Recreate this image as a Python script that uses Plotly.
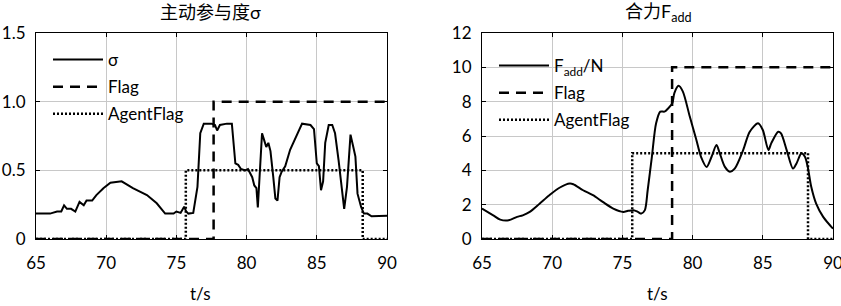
import plotly.graph_objects as go

# ---- data: left panel (sigma) ----
sigma_t = [65.0, 66.0, 66.5, 66.8, 67.0, 67.2, 67.5, 67.8, 68.1, 68.4, 68.6, 69.0, 69.3, 69.8,
           70.3, 71.1, 71.9, 72.9, 73.6, 74.2, 74.8, 75.0, 75.3, 75.55, 75.7, 75.85, 76.2, 76.5,
           76.7, 76.95, 77.5, 77.75, 77.9, 78.1, 78.6, 78.95, 79.2, 79.4, 79.6, 79.9, 80.1,
           80.4, 80.55, 80.7, 80.8, 80.9, 81.1, 81.25, 81.4, 81.55, 81.7, 81.9, 82.05, 82.2,
           82.35, 82.5, 82.75, 83.1, 83.6, 83.95, 84.55, 84.8, 85.0, 85.15, 85.3, 85.45, 85.6,
           85.85, 86.1, 86.3, 86.55, 86.8, 86.95, 87.15, 87.4, 87.6, 87.75, 87.9, 88.15, 88.35,
           88.6, 88.9, 90.0]
sigma_v = [0.185, 0.185, 0.20, 0.20, 0.245, 0.22, 0.22, 0.20, 0.27, 0.245, 0.28, 0.28, 0.32, 0.37,
           0.41, 0.42, 0.37, 0.32, 0.26, 0.185, 0.185, 0.20, 0.19, 0.235, 0.20, 0.185, 0.19, 0.38,
           0.77, 0.84, 0.84, 0.83, 0.79, 0.83, 0.84, 0.84, 0.55, 0.54, 0.51, 0.50, 0.51,
           0.45, 0.39, 0.37, 0.23, 0.45, 0.77, 0.72, 0.67, 0.70, 0.64, 0.45, 0.295, 0.28,
           0.45, 0.49, 0.53, 0.65, 0.76, 0.84, 0.83, 0.80, 0.55, 0.53, 0.355, 0.42, 0.70,
           0.83, 0.83, 0.77, 0.575, 0.33, 0.22, 0.38, 0.76, 0.67, 0.60, 0.33, 0.235, 0.185,
           0.185, 0.165, 0.17]
flag1_t = [65, 77.65, 77.65, 90]
flag1_v = [0, 0, 1, 1]
agent1_t = [65, 75.67, 75.67, 88.27, 88.27, 90]
agent1_v = [0, 0, 0.5, 0.5, 0, 0]

# ---- data: right panel (F_add) ----
f_t = [65.0, 65.8, 66.3, 66.9, 67.5, 67.9, 68.4, 69.1, 69.8, 70.55, 71.26, 71.5, 72.2, 72.9,
       73.6, 74.35, 75.06, 75.4, 75.8, 76.1, 76.35, 76.6, 76.8, 77.1, 77.4, 77.7, 78.0, 78.25,
       78.55, 78.7, 79.0, 79.3, 79.8, 80.27, 80.6, 81.0, 81.35, 81.7, 81.9, 82.3, 82.65, 83.0,
       83.6, 84.07, 84.66, 85.0, 85.4, 85.6, 86.1, 86.3, 86.7, 87.15, 87.4, 87.75, 88.0, 88.2,
       88.45, 88.8, 89.3, 90.0]
f_v = [1.77, 1.38, 1.13, 1.09, 1.29, 1.38, 1.58, 2.06, 2.55, 3.0, 3.23, 3.19, 2.84, 2.55,
       2.16, 1.77, 1.58, 1.64, 1.68, 1.58, 1.48, 1.68, 2.84, 4.79, 6.74, 7.42, 7.42, 7.6,
       7.9, 8.5, 8.92, 8.6, 7.13, 5.77, 4.79, 4.2, 4.79, 5.47, 5.08, 4.2, 3.92, 4.1,
       5.18, 6.25, 6.74, 6.35, 5.18, 5.57, 6.25, 6.15, 5.18, 4.1, 4.4, 4.99, 4.79, 4.2,
       3.04, 2.06, 1.29, 0.6]
flag2_t = [65, 78.54, 78.54, 90]
flag2_v = [0, 0, 10, 10]
agent2_t = [65, 75.7, 75.7, 88.22, 88.22, 90]
agent2_v = [0, 0, 5, 5, 0, 0]

x_ticks = [65, 70, 75, 80, 85, 90]
y1_ticks = [0, 0.5, 1.0, 1.5]
y1_labels = ["0", "0.5", "1.0", "1.5"]
y2_ticks = [0, 2, 4, 6, 8, 10, 12]

FONT = "Lato, 'Noto Sans CJK SC', sans-serif"
W, H = 841, 306

fig = go.Figure()
dash_style = "10px,7px"
dot_style = "2px,2px"

fig.add_trace(go.Scatter(x=sigma_t, y=sigma_v, mode="lines", name="σ", legendgroup="a1",
                         line=dict(color="black", width=2), xaxis="x", yaxis="y", legend="legend"))
fig.add_trace(go.Scatter(x=flag1_t, y=flag1_v, mode="lines", name="Flag", legendgroup="b1",
                         line=dict(color="black", width=2.5, dash=dash_style), xaxis="x", yaxis="y", legend="legend"))
fig.add_trace(go.Scatter(x=agent1_t, y=agent1_v, mode="lines", name="AgentFlag", legendgroup="c1",
                         line=dict(color="black", width=2.5, dash=dot_style), xaxis="x", yaxis="y", legend="legend"))

fig.add_trace(go.Scatter(x=f_t, y=f_v, mode="lines", name="F<sub>add</sub>/N", legendgroup="a2",
                         line=dict(color="black", width=2, shape="spline", smoothing=0.8),
                         xaxis="x2", yaxis="y2", legend="legend2"))
fig.add_trace(go.Scatter(x=flag2_t, y=flag2_v, mode="lines", name="Flag", legendgroup="b2",
                         line=dict(color="black", width=2.5, dash=dash_style), xaxis="x2", yaxis="y2", legend="legend2"))
fig.add_trace(go.Scatter(x=agent2_t, y=agent2_v, mode="lines", name="AgentFlag", legendgroup="c2",
                         line=dict(color="black", width=2.5, dash=dot_style), xaxis="x2", yaxis="y2", legend="legend2"))

ydom = [1 - 239 / H, 1 - 33 / H]
axis_common = dict(showline=True, linecolor="black", linewidth=1, mirror="ticks",
                   ticks="inside", ticklen=4, tickcolor="black", automargin=False,
                   ticklabeloverflow="allow",
                   showgrid=True, gridcolor="#c8c8c8", gridwidth=1, zeroline=False,
                   tickfont=dict(family=FONT, size=17, color="black"))

fig.update_layout(
    width=W, height=H,
    margin=dict(l=0, r=0, t=0, b=0),
    paper_bgcolor="white", plot_bgcolor="white",
    showlegend=True,
    xaxis=dict(domain=[36 / W, 387 / W], range=[65, 90], tickvals=x_ticks, anchor="y",
               ticklabelstandoff=9, **axis_common),
    yaxis=dict(domain=ydom, range=[0, 1.5], tickvals=y1_ticks, ticktext=y1_labels, anchor="x",
               ticklabelstandoff=6, **axis_common),
    xaxis2=dict(domain=[482 / W, 833 / W], range=[65, 90], tickvals=x_ticks, anchor="y2",
                ticklabelstandoff=9, **axis_common),
    yaxis2=dict(domain=ydom, range=[0, 12], tickvals=y2_ticks, anchor="x2",
                ticklabelstandoff=6, **axis_common),
    legend=dict(x=48 / W, y=1 - 42 / H, xanchor="left", yanchor="top", bgcolor="rgba(0,0,0,0)",
                font=dict(family=FONT, size=17, color="black"), itemwidth=50, tracegroupgap=2),
    legend2=dict(x=494 / W, y=1 - 48 / H, xanchor="left", yanchor="top", bgcolor="rgba(0,0,0,0)",
                 font=dict(family=FONT, size=17, color="black"), itemwidth=50, tracegroupgap=2),
    annotations=[
        dict(text="主动参与度σ", x=211 / W, y=1 - 12 / H, xref="paper", yref="paper",
             xanchor="center", yanchor="middle",
             showarrow=False, font=dict(family=FONT, size=18, color="black")),
        dict(text="合力F<sub>add</sub>", x=658 / W, y=1 - 13 / H, xref="paper", yref="paper",
             xanchor="center", yanchor="middle",
             showarrow=False, font=dict(family=FONT, size=18, color="black")),
        dict(text="t/s", x=200 / W, y=1 - 293 / H, xref="paper", yref="paper",
             xanchor="center", yanchor="middle",
             showarrow=False, font=dict(family=FONT, size=17, color="black")),
        dict(text="t/s", x=657 / W, y=1 - 293 / H, xref="paper", yref="paper",
             xanchor="center", yanchor="middle",
             showarrow=False, font=dict(family=FONT, size=17, color="black")),
    ],
)

fig.write_html("out.html", config={"displayModeBar": False},
               post_script="document.body.style.margin='0';document.body.style.overflow='hidden';")
